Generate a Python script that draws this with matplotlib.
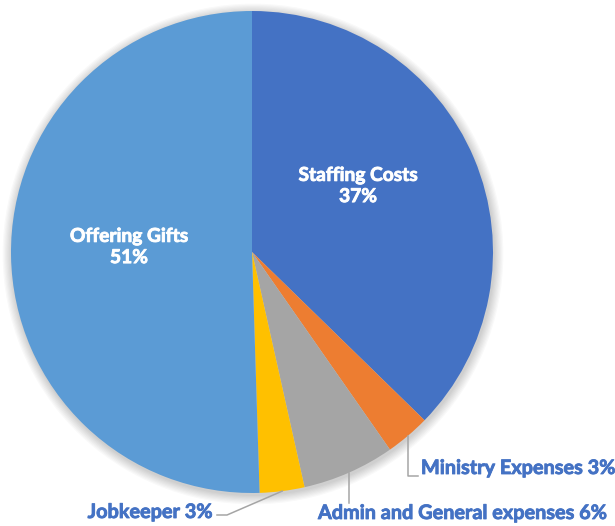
import numpy as np
import matplotlib.pyplot as plt
import matplotlib.patheffects as pe
from matplotlib.patches import Circle

plt.rcParams['font.family'] = ['Lato', 'DejaVu Sans']

# data
labels = ['Staffing Costs', 'Ministry Expenses', 'Admin and General expenses',
          'Jobkeeper', 'Offering Gifts']
values = [37.3, 3.0, 6.2, 3.0, 50.5]
pct_text = ['37%', '3%', '6%', '3%', '51%']
colors = ['#4472C4', '#ED7D31', '#A5A5A5', '#FFC000', '#5B9BD5']

W, H = 615, 526
fig = plt.figure(figsize=(W / 100, H / 100), dpi=100)
ax = fig.add_axes([0, 0, 1, 1])

cx, cy, R = 252, H - 252, 241

# soft shadow behind the pie
for k in range(8):
    ax.add_patch(Circle((cx + 1, cy - 2), R + 1 + k * 1.2, color='black',
                        alpha=0.025, lw=0, zorder=0))

wedges, _ = ax.pie(values, colors=colors, startangle=90, counterclock=False,
                   center=(cx, cy), radius=R, frame=True,
                   wedgeprops=dict(linewidth=0))
ax.set_xlim(0, W)
ax.set_ylim(0, H)
ax.set_aspect('equal')
ax.axis('off')

lab_col = '#4472C4'
fs = 14.3
fs_in = 13.8


def bold_fx(c):
    # thicken the strokes a bit, closer to the Calibri bold look
    return [pe.withStroke(linewidth=0.6, foreground=c)]


# inside labels
ax.text(358, H - 186, labels[0] + '\n' + pct_text[0], ha='center', va='center',
        color='white', fontsize=fs_in, fontweight='bold', linespacing=1.3,
        path_effects=bold_fx('white'))
ax.text(129, H - 247, labels[4] + '\n' + pct_text[4], ha='center', va='center',
        color='white', fontsize=fs_in, fontweight='bold', linespacing=1.3,
        path_effects=bold_fx('white'))


def edge_point(i):
    w = wedges[i]
    ang = np.deg2rad((w.theta1 + w.theta2) / 2)
    return cx + R * np.cos(ang), cy + R * np.sin(ang)


line_kw = dict(color='#A5A5A5', lw=1.1, zorder=3)

# Ministry expenses
x0, y0 = edge_point(1)
ax.plot([x0, x0, 418], [y0, H - 476, H - 476], **line_kw)
ax.text(421, H - 468, labels[1] + ' ' + pct_text[1], ha='left', va='center',
        color=lab_col, fontsize=fs, fontweight='bold', path_effects=bold_fx(lab_col))

# Admin and general
x0, y0 = edge_point(2)
ax.plot([x0, x0], [y0, H - 503], **line_kw)
ax.text(318, H - 513, labels[2] + ' ' + pct_text[2], ha='left', va='center',
        color=lab_col, fontsize=fs, fontweight='bold', path_effects=bold_fx(lab_col))

# Jobkeeper
x0, y0 = edge_point(3)
ax.plot([x0, 227, 217], [y0, H - 515, H - 515], **line_kw)
ax.text(213, H - 512, labels[3] + ' ' + pct_text[3], ha='right', va='center',
        color=lab_col, fontsize=fs, fontweight='bold', path_effects=bold_fx(lab_col))

fig.savefig('out.png', dpi=100)
